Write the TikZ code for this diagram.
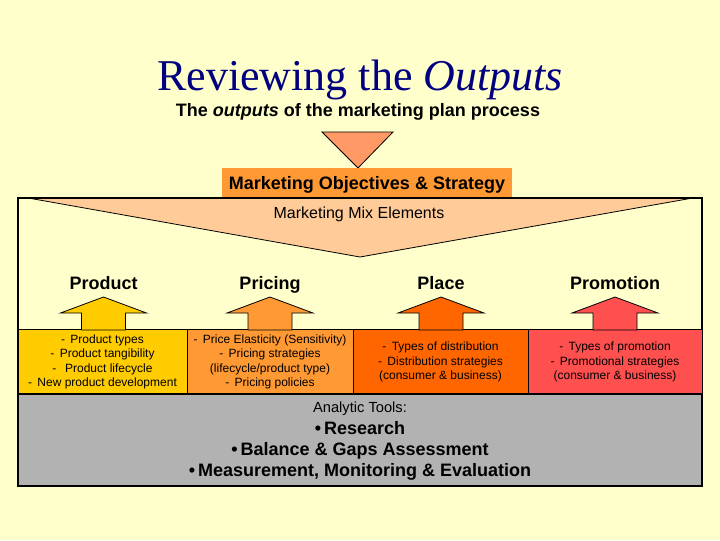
\documentclass[tikz,border=0pt]{standalone}
\usepackage{fontspec}
\setmainfont{Liberation Sans}
\newfontfamily\titlefont{Liberation Serif}
\usetikzlibrary{calc}

\definecolor{slidebg}{HTML}{FFFFCC}
\definecolor{titleblue}{HTML}{000080}
\definecolor{mixpeach}{HTML}{FFCC99}
\definecolor{topsalmon}{HTML}{FF9966}
\definecolor{objorange}{HTML}{FF9933}
\definecolor{productcol}{HTML}{FFCC00}
\definecolor{pricingcol}{HTML}{FF9933}
\definecolor{placecol}{HTML}{FF6600}
\definecolor{promocol}{HTML}{FF5050}
\definecolor{toolsgray}{HTML}{B2B2B2}

\tikzstyle{mixbox} = [
    draw=black,
    line width=0.6pt,
    rectangle,
    inner sep=0pt,
    minimum height=48.75pt,
    align=center,
    font=\fontsize{9}{10.8}\selectfont
    ]
\tikzstyle{mixhead} = [
    anchor=base,
    font=\fontsize{13.5}{16}\selectfont\bfseries
    ]
\tikzstyle{mixarrow} = [
    draw=black,
    line width=0.6pt
    ]
\newcommand{\colarrow}[2]{% arrow up from a column box
\draw[mixarrow, fill=#2] (#1-22,330) -- (#1-22,313) -- (#1-43,313) -- (#1,297)
    -- (#1+43,313) -- (#1+22,313) -- (#1+22,330) -- cycle;
}

\begin{document}
\begin{tikzpicture}[x=0.75pt,y=-0.75pt]
\fill[slidebg] (0,0) rectangle (720,540);

% heading
\node[anchor=base, text=titleblue, font=\titlefont\fontsize{33}{40}\selectfont] (title) at (360,90) {Reviewing the \textit{Outputs}};
\node[anchor=base, font=\fontsize{13.5}{16}\selectfont\bfseries] (subtitle) at (358,116.5) {The \textit{outputs} of the marketing plan process};

% objectives
\draw[mixarrow, fill=topsalmon] (322,132) -- (393,132) -- (358,168) -- cycle;
\node[fill=objorange, minimum width=217.5pt, minimum height=22.5pt, inner sep=0pt, text depth=0pt,
    font=\fontsize{13.5}{16}\selectfont\bfseries] (objectives) at (367,183) {Marketing Objectives \& Strategy};

% marketing mix frame
\draw[line width=0.9pt, fill=slidebg] (18,198) rectangle (702,486);
\draw[mixarrow, fill=mixpeach] (31,198.5) -- (690,198.5) -- (360,257) -- cycle;
\node[anchor=base, font=\fontsize{12}{14}\selectfont] (mixtitle) at (359,218) {Marketing Mix Elements};

\node[mixhead] (product) at (103.5,289) {Product};
\node[mixhead] (pricing) at (270,289) {Pricing};
\node[mixhead] (place) at (441,289) {Place};
\node[mixhead] (promotion) at (615,289) {Promotion};

\node[mixbox, fill=productcol, minimum width=126.75pt] (productbox) at (102.5,362)
    {- \,Product types\\ - \,Product tangibility\\ - \ \,Product lifecycle\\ - \,New product development};
\node[mixbox, fill=pricingcol, minimum width=124.5pt] (pricingbox) at (270,362)
    {- \,Price Elasticity (Sensitivity)\\ - \,Pricing strategies\\ (lifecycle/product type)\\ - \,Pricing policies};
\node[mixbox, fill=placecol, minimum width=131.25pt] (placebox) at (440.5,362)
    {- \,Types of distribution\\ - \,Distribution strategies\\ (consumer \& business)};
\node[mixbox, fill=promocol, minimum width=130.5pt] (promotionbox) at (615,362)
    {- \,Types of promotion\\ - \,Promotional strategies\\ (consumer \& business)};

\colarrow{103.5}{productcol}
\colarrow{270}{pricingcol}
\colarrow{441}{placecol}
\colarrow{615}{promocol}

% analytic tools
\draw[line width=0.9pt, fill=toolsgray] (18,394) rectangle (702,486);
\node[anchor=base, font=\fontsize{11}{13}\selectfont] (tools) at (360,412.5) {Analytic Tools:};
\node[anchor=base, font=\fontsize{13.5}{16}\selectfont\bfseries] (research) at (360,434) {\textbullet\,Research};
\node[anchor=base, font=\fontsize{13.5}{16}\selectfont\bfseries] (gaps) at (360,455.5) {\textbullet\,Balance \& Gaps Assessment};
\node[anchor=base, font=\fontsize{13.5}{16}\selectfont\bfseries] (measure) at (360,476.5) {\textbullet\,Measurement, Monitoring \& Evaluation};
\end{tikzpicture}
\end{document}
